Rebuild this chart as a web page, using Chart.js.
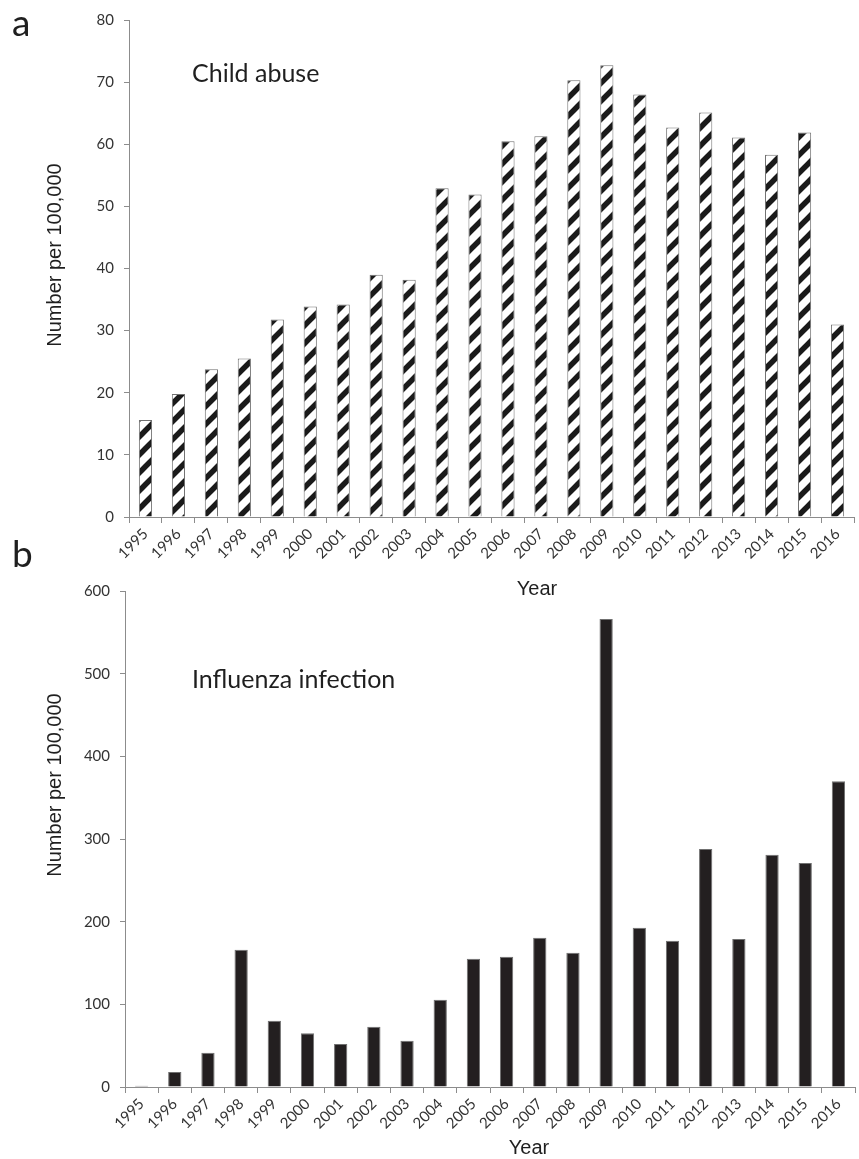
<!DOCTYPE html>
<html>
<head>
<meta charset="utf-8">
<script src="https://cdn.jsdelivr.net/npm/chart.js@4.4.1/dist/chart.umd.min.js"></script>
<style>
  body { margin: 0; background: #fff; }
  .panel { position: absolute; left: 0; width: 859px; }
  #wrapA { top: 0; height: 600px; }
  #wrapB { top: 530px; height: 629px; }
</style>
</head>
<body>
<div class="panel" id="wrapA"><canvas id="chartA"></canvas></div>
<div class="panel" id="wrapB"><canvas id="chartB"></canvas></div>
<script>
// Datos
const years = ['1995', '1996', '1997', '1998', '1999', '2000', '2001', '2002', '2003', '2004', '2005',
               '2006', '2007', '2008', '2009', '2010', '2011', '2012', '2013', '2014', '2015', '2016'];
const childAbuse = [15.6, 19.8, 23.8, 25.5, 31.8, 33.9, 34.2, 39.0, 38.2, 52.9, 51.9,
                    60.5, 61.3, 70.3, 72.7, 68.0, 62.7, 65.1, 61.1, 58.3, 61.9, 31.0];
const influenza = [1.5, 18, 41.5, 166, 80, 65, 52, 73, 56, 105.6, 155,
                   157.5, 180.5, 162.5, 566, 192.5, 177, 288, 179, 281, 271, 370];
const yTicksA = { min: 0, max: 80, step: 10 };
const yTicksB = { min: 0, max: 600, step: 100 };

const axisGrey = '#8c8c8c';
const tickFont = { family: 'Lato', size: 15 };

// Patrón de rayas diagonales para las barras de arriba
function stripePattern() {
    const n = 18;
    const c = document.createElement('canvas');
    c.width = n; c.height = n;
    const g = c.getContext('2d');
    g.fillStyle = '#fff';
    g.fillRect(0, 0, n, n);
    g.strokeStyle = '#1a1a1a';
    g.lineWidth = 5.5;
    g.beginPath();
    g.moveTo(0, n); g.lineTo(n, 0);
    g.moveTo(-n / 2, n / 2); g.lineTo(n / 2, -n / 2);
    g.moveTo(n / 2, n * 1.5); g.lineTo(n * 1.5, n / 2);
    g.stroke();
    return document.getElementById('chartA').getContext('2d').createPattern(c, 'repeat');
}

// Textos sueltos (letras de panel, títulos internos y de ejes)
const textPlugin = {
    id: 'texts',
    afterDraw(chart, args, opts) {
        const ctx = chart.ctx;
        opts.items.forEach(it => {
            ctx.save();
            ctx.font = it.font;
            ctx.fillStyle = it.color || '#1f1f1f';
            ctx.textAlign = it.align || 'left';
            ctx.textBaseline = it.baseline || 'alphabetic';
            ctx.translate(it.x, it.y);
            if (it.rot) ctx.rotate(it.rot);
            ctx.fillText(it.text, 0, 0);
            ctx.restore();
        });
    }
};

function makeOptions(ticks, yWidth, xHeight, pad, texts) {
    return {
        responsive: true,
        maintainAspectRatio: false,
        animation: false,
        layout: { padding: pad },
        plugins: {
            legend: { display: false },
            tooltip: { enabled: false },
            texts: { items: texts }
        },
        scales: {
            x: {
                grid: { display: true, drawOnChartArea: false, drawTicks: true, tickLength: 6,
                        color: axisGrey, offset: true },
                border: { display: true, color: axisGrey, width: 1 },
                ticks: { font: tickFont, color: '#333', maxRotation: 45, minRotation: 45, padding: 2, autoSkip: false },
                afterFit: s => { s.height = xHeight; }
            },
            y: {
                min: ticks.min,
                max: ticks.max,
                grid: { display: true, drawOnChartArea: false, drawTicks: true, tickLength: 5, color: axisGrey },
                border: { display: true, color: axisGrey, width: 1 },
                ticks: { stepSize: ticks.step, font: tickFont, color: '#333', padding: 10 },
                afterFit: s => { s.width = yWidth; }
            }
        }
    };
}

const titleFont = '25px Lato';
const axisFont = '20px "Liberation Sans", Arial, sans-serif';
const letterFont = '37px Lato';

new Chart(document.getElementById('chartA'), {
    type: 'bar',
    data: {
        labels: years,
        datasets: [{
            label: 'Child abuse',
            data: childAbuse,
            backgroundColor: stripePattern(),
            borderColor: '#707070',
            borderWidth: 1,
            barPercentage: 0.4,
            categoryPercentage: 1
        }]
    },
    options: makeOptions(yTicksA, 129, 83, { top: 20, right: 5, left: 0, bottom: 0 }, [
        { text: 'a', x: 12, y: 36, font: letterFont },
        { text: 'Child abuse', x: 192, y: 82, font: titleFont },
        { text: 'Number per 100,000', x: 55, y: 255, font: axisFont, align: 'center', baseline: 'middle', rot: -Math.PI / 2 },
        { text: 'Year', x: 537, y: 589, font: axisFont, align: 'center', baseline: 'middle' }
    ]),
    plugins: [textPlugin]
});

new Chart(document.getElementById('chartB'), {
    type: 'bar',
    data: {
        labels: years,
        datasets: [{
            label: 'Influenza infection',
            data: influenza,
            backgroundColor: '#231f20',
            borderColor: '#707070',
            borderWidth: 1,
            barPercentage: 0.4,
            categoryPercentage: 1
        }]
    },
    options: makeOptions(yTicksB, 125, 72, { top: 61, right: 4, left: 0, bottom: 0 }, [
        { text: 'b', x: 12, y: 37, font: letterFont },
        { text: 'Influenza infection', x: 192, y: 158, font: titleFont },
        { text: 'Number per 100,000', x: 55, y: 255, font: axisFont, align: 'center', baseline: 'middle', rot: -Math.PI / 2 },
        { text: 'Year', x: 529, y: 618, font: axisFont, align: 'center', baseline: 'middle' }
    ]),
    plugins: [textPlugin]
});
</script>
</body>
</html>
